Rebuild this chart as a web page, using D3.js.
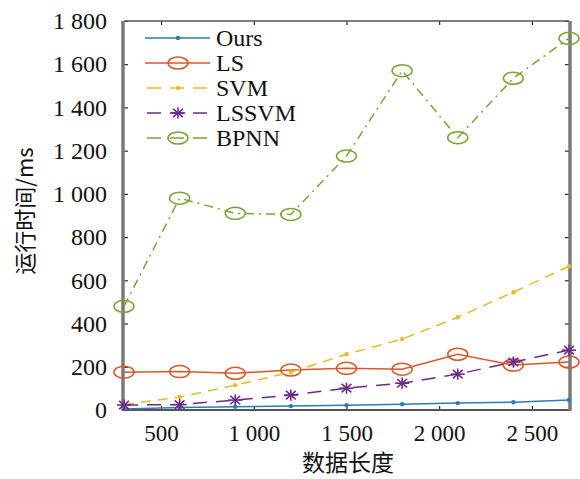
<!DOCTYPE html>
<html>
<head>
<meta charset="utf-8">
<script src="https://cdn.jsdelivr.net/npm/d3@7"></script>
<style>
  body { margin: 0; background: #fff; }
  svg text { font-family: "Liberation Serif", "Times New Roman", serif; fill: #111; }
  .cjk { font-family: "Noto Sans CJK SC", sans-serif; }
</style>
</head>
<body>
<div id="chart"></div>
<script>
// data {{{
const lengths = [300, 600, 900, 1200, 1500, 1800, 2100, 2400, 2700];
const ours  = [5, 12, 15, 18, 22, 27, 32, 36, 46];
const ls    = [175, 178, 170, 185, 193, 189, 258, 208, 222];
const svm   = [25, 60, 115, 175, 258, 328, 429, 545, 665];
const lssvm = [23, 25, 46, 69, 101, 124, 166, 222, 277];
const bpnn  = [480, 980, 910, 905, 1175, 1570, 1260, 1535, 1720];
const series_names = ["Ours", "LS", "SVM", "LSSVM", "BPNN"];
const x_ticks = [500, 1000, 1500, 2000, 2500];
const y_ticks = [0, 200, 400, 600, 800, 1000, 1200, 1400, 1600, 1800];
// }}}
// consts {{{
const W = 580, H = 479;
const plot = {left: 124, right: 569, top: 21, bottom: 410};
const styles = [
  {color: "#2b7bba", dash: null,        marker: "dot"},
  {color: "#d9572a", dash: null,        marker: "circle"},
  {color: "#e6bb2a", dash: "10,7",      marker: "dot"},
  {color: "#6a2c86", dash: "14,9",      marker: "star"},
  {color: "#78a534", dash: "9,5,2,5",   marker: "circle"}
];
const all_series = [ours, ls, svm, lssvm, bpnn];

const svg = d3.select("#chart").append("svg")
    .attr("width", W)
    .attr("height", H);

const fmt = d3.formatLocale({decimal: ".", thousands: " ", grouping: [3], currency: ["", ""]}).format(",");

const x = d3.scaleLinear().domain([300, 2700]).range([plot.left, plot.right]);
const y = d3.scaleLinear().domain([0, 1800]).range([plot.bottom, plot.top]);
// }}}
// axes {{{
svg.append("g")
    .attr("transform", "translate(0," + plot.bottom + ")")
    .call(d3.axisBottom(x).tickValues(x_ticks).tickSize(-4).tickPadding(15).tickFormat(fmt))
    .call(g => g.select(".domain").remove())
    .call(g => g.selectAll("text").style("font-size", "23px"));

svg.append("g")
    .attr("transform", "translate(" + plot.left + ",0)")
    .call(d3.axisLeft(y).tickValues(y_ticks).tickSize(-4).tickPadding(17).tickFormat(fmt))
    .call(g => g.select(".domain").remove())
    .call(g => g.selectAll("text").style("font-size", "24px"));

// mirrored ticks on top and right
svg.append("g")
    .attr("transform", "translate(0," + plot.top + ")")
    .call(d3.axisTop(x).tickValues(x_ticks).tickSize(-4).tickFormat(""))
    .call(g => g.select(".domain").remove());
svg.append("g")
    .attr("transform", "translate(" + plot.right + ",0)")
    .call(d3.axisRight(y).tickValues(y_ticks).tickSize(-4).tickFormat(""))
    .call(g => g.select(".domain").remove());

// frame: thick grey left/right, thinner top/bottom
svg.append("line").attr("x1", plot.left).attr("x2", plot.right)
    .attr("y1", plot.top).attr("y2", plot.top)
    .attr("stroke", "#555").attr("stroke-width", 1.5);
svg.append("line").attr("x1", plot.left).attr("x2", plot.right)
    .attr("y1", plot.bottom).attr("y2", plot.bottom)
    .attr("stroke", "#555").attr("stroke-width", 2);
svg.append("line").attr("x1", plot.left - 1).attr("x2", plot.left - 1)
    .attr("y1", plot.top).attr("y2", plot.bottom + 1)
    .attr("stroke", "#7a7a7a").attr("stroke-width", 3.5);
svg.append("line").attr("x1", plot.right + 1).attr("x2", plot.right + 1)
    .attr("y1", plot.top).attr("y2", plot.bottom + 1)
    .attr("stroke", "#7a7a7a").attr("stroke-width", 3.5);

// axis titles
svg.append("text")
    .attr("class", "cjk")
    .attr("x", 348).attr("y", 471)
    .attr("text-anchor", "middle")
    .style("font-size", "23px")
    .text("数据长度");
svg.append("text")
    .attr("class", "cjk")
    .attr("transform", "translate(33,211) rotate(-90)")
    .attr("text-anchor", "middle")
    .style("font-size", "22px")
    .text("运行时间/ms");
// }}}
// markers {{{
function draw_marker(g, kind, cx, cy, color) {
    if (kind == "circle") {
        g.append("ellipse")
            .attr("cx", cx).attr("cy", cy)
            .attr("rx", 10).attr("ry", 6)
            .attr("fill", "none")
            .attr("stroke", color)
            .attr("stroke-width", 1.5);
    } else if (kind == "dot") {
        g.append("circle")
            .attr("cx", cx).attr("cy", cy).attr("r", 2.2)
            .attr("fill", color);
    } else if (kind == "star") {
        const r = 7;
        [[r, 0], [0, r * 0.8], [r * 0.7, r * 0.6], [r * 0.7, -r * 0.6]].forEach(d => {
            g.append("line")
                .attr("x1", cx - d[0]).attr("y1", cy - d[1])
                .attr("x2", cx + d[0]).attr("y2", cy + d[1])
                .attr("stroke", color).attr("stroke-width", 1.6);
        });
    }
}
// }}}
// plotting {{{
const line = d3.line()
    .x((d, i) => x(lengths[i]))
    .y(d => y(d));

all_series.forEach((vals, k) => {
    const st = styles[k];
    const g = svg.append("g");
    g.append("path")
        .datum(vals)
        .attr("d", line)
        .attr("fill", "none")
        .attr("stroke", st.color)
        .attr("stroke-width", 1.5)
        .attr("stroke-dasharray", st.dash);
    vals.forEach((v, i) => draw_marker(g, st.marker, x(lengths[i]), y(v), st.color));
});

// legend
const leg = svg.append("g");
series_names.forEach((name, k) => {
    const st = styles[k];
    const ly = 38 + k * 25;
    leg.append("line")
        .attr("x1", 145).attr("x2", 210)
        .attr("y1", ly).attr("y2", ly)
        .attr("stroke", st.color)
        .attr("stroke-width", 1.5)
        .attr("stroke-dasharray", st.dash ? "14,9" : null)
        .attr("stroke-dashoffset", st.dash ? -2 : 0);
    draw_marker(leg, st.marker, 178, ly, st.color);
    leg.append("text")
        .attr("x", 216).attr("y", ly + 8)
        .style("font-size", "24px")
        .text(name);
});
// }}}
</script>
</body>
</html>
